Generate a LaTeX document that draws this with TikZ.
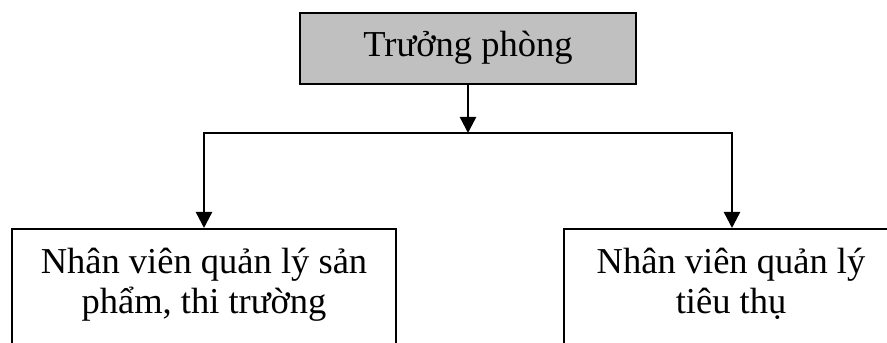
\documentclass[tikz,border=0pt]{standalone}
\usepackage{fontspec}
\setmainfont{Liberation Serif}
\usetikzlibrary{arrows.meta}
\begin{document}
\begin{tikzpicture}[x=1pt,y=1pt,
  box/.style={draw=black, line width=2.2pt, rectangle, inner sep=0pt},
  boxtext/.style={inner sep=0pt, align=center, font=\fontsize{36.5}{39}\selectfont},
  conn/.style={line width=2.4pt},
  arr/.style={conn, -{Triangle[length=16pt,width=16pt]}}]
\useasboundingbox (0,0) rectangle (887,343);
\clip (0,0) rectangle (887,343);
% top box
\node[box, fill={rgb,255:red,192;green,192;blue,192}, minimum width=336pt, minimum height=71pt] (t) at (468,294.5) {};
\node[boxtext, anchor=base] (tt) at (468,286) {Trưởng phòng};
% bottom boxes
\node[box, anchor=north, minimum width=384pt, minimum height=160pt] (l) at (204,115) {};
\node[box, anchor=north, minimum width=336pt, minimum height=160pt] (r) at (732,115) {};
\node[boxtext, anchor=base] (lt) at (204,30) {Nhân viên quản lý sản\\phẩm, thi trường};
\node[boxtext, anchor=base] (rt) at (731,30) {Nhân viên quản lý\\tiêu thụ};
% connectors
\coordinate (j) at (468,210);
\coordinate (jl) at (l.north |- j);
\coordinate (jr) at (r.north |- j);
\draw[arr] (t.south) -- (j);
\draw[conn, line cap=rect] (jl) -- (jr);
\draw[arr] (jl) -- (l.north);
\draw[arr] (jr) -- (r.north);
\end{tikzpicture}
\end{document}
